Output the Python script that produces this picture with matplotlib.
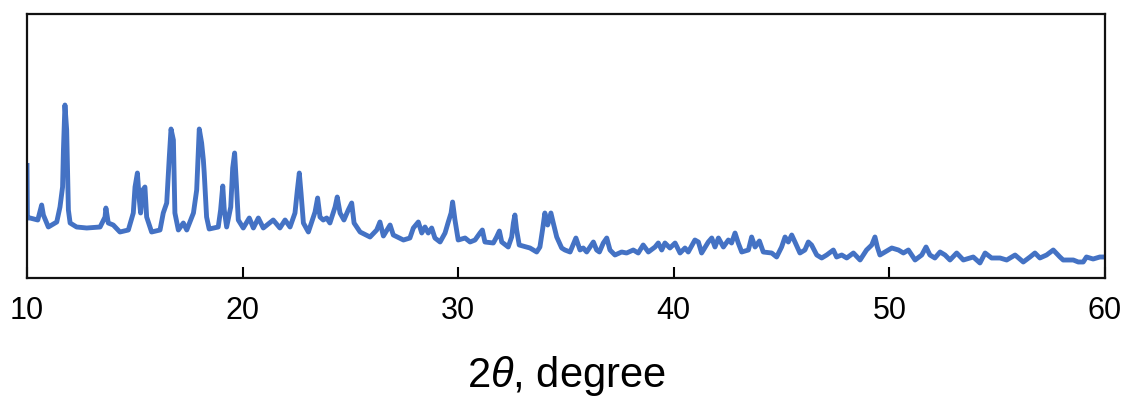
"""XRD pattern, 2theta 10-60 deg."""
import matplotlib
matplotlib.use('Agg')
import matplotlib.pyplot as plt

plt.rcParams['font.family'] = ['Liberation Sans', 'DejaVu Sans']
plt.rcParams['mathtext.fontset'] = 'custom'
plt.rcParams['mathtext.it'] = 'Liberation Sans:italic'
plt.rcParams['mathtext.rm'] = 'Liberation Sans'

# pattern points (2theta in degree, intensity in a.u.)
two_theta = [
    10.00, 10.02, 10.14, 10.50, 10.68, 10.76, 10.99, 11.38, 11.53, 11.65,
    11.69, 11.76, 11.84, 11.92, 12.00, 12.30, 12.77, 13.39, 13.62, 13.66,
    13.77, 14.00, 14.31, 14.70, 14.93, 15.01, 15.12, 15.21, 15.27, 15.37,
    15.47, 15.55, 15.78, 16.17, 16.32, 16.48, 16.60, 16.68, 16.79, 16.86,
    17.02, 17.25, 17.41, 17.72, 17.87, 17.99, 18.10, 18.18, 18.22, 18.33,
    18.45, 18.87, 18.98, 19.08, 19.15, 19.26, 19.45, 19.54, 19.63, 19.72,
    19.80, 20.03, 20.31, 20.50, 20.73, 20.96, 21.42, 21.73, 21.97, 22.20,
    22.43, 22.54, 22.63, 22.71, 22.82, 23.05, 23.36, 23.48, 23.59, 23.74,
    23.90, 24.05, 24.29, 24.39, 24.52, 24.70, 24.90, 25.06, 25.17, 25.45,
    25.91, 26.22, 26.37, 26.53, 26.84, 26.99, 27.46, 27.76, 27.92, 28.15,
    28.31, 28.46, 28.61, 28.77, 28.92, 29.16, 29.39, 29.54, 29.67, 29.74,
    29.85, 30.00, 30.32, 30.55, 30.78, 31.01, 31.12, 31.24, 31.63, 31.78,
    31.91, 32.02, 32.32, 32.48, 32.56, 32.63, 32.71, 32.83, 33.33, 33.64,
    33.79, 33.91, 34.02, 34.15, 34.30, 34.41, 34.57, 34.80, 34.95, 35.19,
    35.46, 35.65, 35.80, 35.96, 36.27, 36.42, 36.55, 36.73, 36.89, 37.04,
    37.27, 37.58, 37.81, 38.12, 38.35, 38.58, 38.82, 39.13, 39.28, 39.44,
    39.59, 39.82, 40.06, 40.29, 40.52, 40.67, 40.98, 41.14, 41.29, 41.60,
    41.76, 41.91, 42.07, 42.30, 42.53, 42.68, 42.84, 42.99, 43.15, 43.46,
    43.61, 43.77, 43.97, 44.15, 44.54, 44.77, 45.00, 45.16, 45.31, 45.47,
    45.62, 45.85, 46.08, 46.24, 46.39, 46.63, 46.86, 47.09, 47.40, 47.55,
    47.79, 48.02, 48.33, 48.64, 48.94, 49.18, 49.33, 49.44, 49.56, 49.80,
    50.11, 50.42, 50.65, 50.88, 51.19, 51.50, 51.70, 51.88, 52.11, 52.35,
    52.58, 52.81, 53.12, 53.43, 53.89, 54.20, 54.44, 54.74, 55.13, 55.44,
    55.83, 56.21, 56.52, 56.75, 56.98, 57.29, 57.60, 57.91, 58.06, 58.53,
    58.76, 58.99, 59.14, 59.45, 59.76, 60.00,
]
intensity = [
    115, 60, 60, 58, 73, 63, 51, 56, 71, 91,
    128, 173, 148, 68, 55, 51, 50, 51, 61, 70,
    55, 53, 46, 48, 65, 91, 105, 78, 65, 88,
    91, 61, 46, 48, 65, 75, 121, 149, 138, 65,
    48, 55, 48, 65, 88, 149, 135, 118, 105, 61,
    49, 51, 68, 92, 68, 51, 71, 110, 125, 91,
    58, 50, 60, 50, 60, 50, 58, 50, 58, 51,
    65, 88, 105, 85, 55, 46, 66, 80, 61, 58,
    60, 55, 71, 81, 65, 58, 68, 75, 55, 46,
    41, 48, 56, 42, 53, 43, 38, 40, 50, 56,
    45, 51, 45, 50, 40, 36, 45, 56, 65, 76,
    58, 38, 40, 36, 38, 45, 48, 36, 35, 41,
    47, 36, 31, 41, 55, 63, 48, 33, 30, 26,
    31, 48, 65, 53, 65, 55, 41, 30, 28, 26,
    40, 28, 30, 26, 36, 28, 26, 35, 40, 28,
    23, 26, 25, 28, 25, 33, 26, 31, 35, 28,
    35, 30, 35, 25, 30, 26, 38, 36, 25, 36,
    40, 31, 40, 31, 38, 35, 45, 35, 26, 28,
    41, 31, 37, 26, 25, 21, 31, 41, 36, 43,
    36, 25, 28, 36, 33, 23, 20, 23, 28, 21,
    23, 20, 25, 18, 28, 33, 41, 31, 23, 26,
    30, 28, 25, 28, 18, 23, 31, 23, 20, 26,
    23, 18, 25, 18, 21, 15, 25, 20, 20, 18,
    23, 16, 21, 25, 20, 23, 28, 21, 18, 18,
    16, 16, 21, 19, 21, 21,
]

xticks = [10, 20, 30, 40, 50, 60]

fig = plt.figure(figsize=(11.28, 3.98), dpi=100)
ax = fig.add_axes([27 / 1128, 120 / 398, 1078 / 1128, 264 / 398])

ax.plot(two_theta, intensity, color='#4472C4', linewidth=3.5,
        solid_joinstyle='round', solid_capstyle='butt')

ax.set_xlim(10, 60)
ax.set_ylim(0, 264)
ax.set_xticks(xticks)
ax.set_yticks([])
ax.tick_params(axis='x', direction='in', length=8, width=1.5,
               labelsize=22, pad=13)
for side in ax.spines.values():
    side.set_linewidth(1.6)
    side.set_color('#111111')

ax.set_xlabel('2$\\theta$, degree', fontsize=30, labelpad=20)

fig.savefig('out.png', dpi=100)
